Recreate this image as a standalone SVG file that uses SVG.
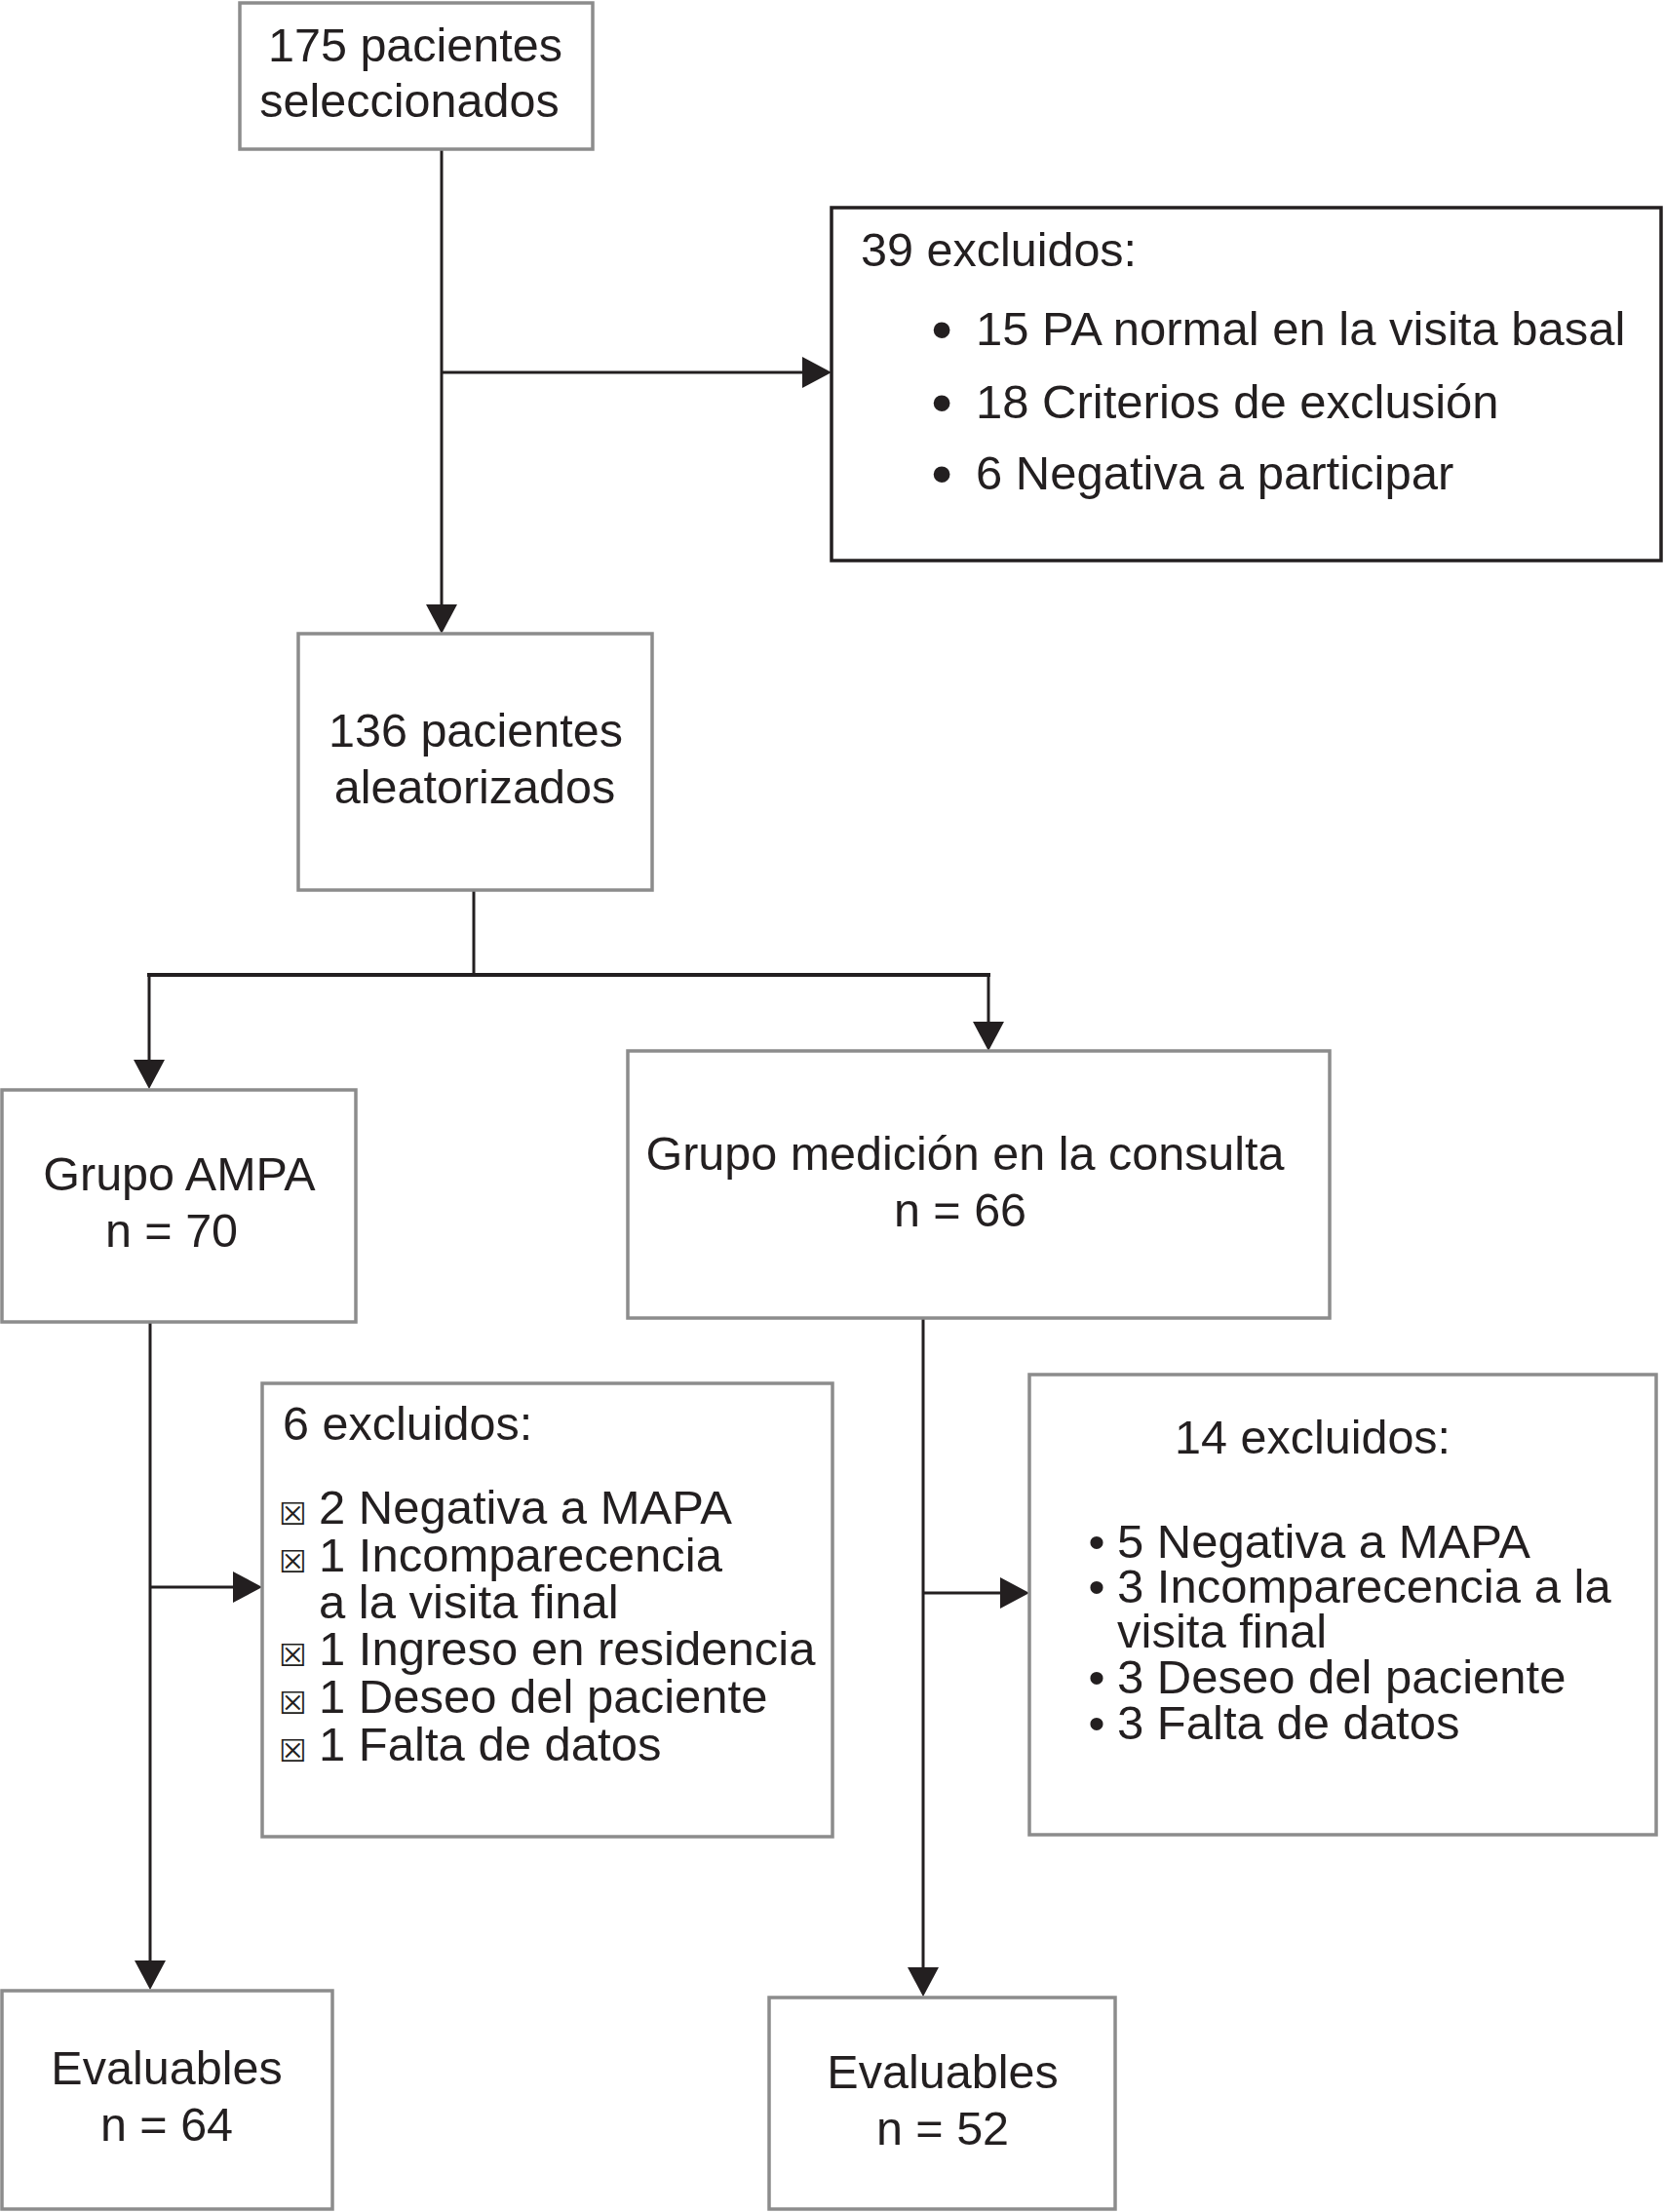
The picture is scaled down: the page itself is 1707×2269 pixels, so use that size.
<svg xmlns="http://www.w3.org/2000/svg" width="1707" height="2269" viewBox="0 0 1707 2269">
<style>
.box{fill:#fff;stroke:#8c8c8c;stroke-width:3.5}
.dark{fill:#fff;stroke:#231f20;stroke-width:3.5}
.t{font-family:"Liberation Sans",Arial,sans-serif;font-size:48.5px;fill:#231f20}
.m{text-anchor:middle}
.l{font-size:49px}
.b{font-size:62px}
.c{fill:none;stroke:#231f20;stroke-width:3}
.sq{font-family:"DejaVu Sans",sans-serif;font-size:32px;fill:#231f20}
</style>
<defs>
<marker id="ah" viewBox="0 0 30 32" refX="20" refY="16" markerWidth="30" markerHeight="32" markerUnits="userSpaceOnUse" orient="auto">
<path d="M0,0 L30,16 L0,32 z" fill="#231f20"/>
</marker>
</defs>
<rect width="1707" height="2269" fill="#fff"/>
<g id="connectors">
<path class="c" d="M453,152 V640" marker-end="url(#ah)"/>
<path class="c" d="M453,382 H843" marker-end="url(#ah)"/>
<path class="c" d="M486,913 V1000"/>
<path class="c" style="stroke-width:4" d="M151,1000 H1016"/>
<path class="c" d="M153,1000 V1107" marker-end="url(#ah)"/>
<path class="c" d="M1014,1000 V1068" marker-end="url(#ah)"/>
<path class="c" d="M154,1356 V2031" marker-end="url(#ah)"/>
<path class="c" d="M154,1628 H259" marker-end="url(#ah)"/>
<path class="c" d="M947,1352 V2038" marker-end="url(#ah)"/>
<path class="c" d="M947,1634 H1046" marker-end="url(#ah)"/>
</g>
<g id="n175">
<rect class="box" x="246" y="3" width="362" height="150"/>
<text class="t m" x="426" y="63">175 pacientes</text>
<text class="t m" x="420" y="120">seleccionados</text>
</g>
<g id="excl39">
<rect class="dark" x="853" y="213" width="851" height="362"/>
<text class="t" x="883" y="273">39 excluidos:</text>
<text class="t b m" x="966" y="359">•</text>
<text class="t l" x="1001" y="354">15 PA normal en la visita basal</text>
<text class="t b m" x="966" y="434">•</text>
<text class="t l" x="1001" y="429">18 Criterios de exclusión</text>
<text class="t b m" x="966" y="507">•</text>
<text class="t l" x="1001" y="502">6 Negativa a participar</text>
</g>
<g id="n136">
<rect class="box" x="306" y="650" width="363" height="263"/>
<text class="t m" x="488" y="766">136 pacientes</text>
<text class="t m" x="487" y="824">aleatorizados</text>
</g>
<g id="ampa">
<rect class="box" x="2" y="1118" width="363" height="238"/>
<text class="t m" x="184" y="1221">Grupo AMPA</text>
<text class="t m" x="176" y="1279">n = 70</text>
</g>
<g id="consulta">
<rect class="box" x="644" y="1078" width="720" height="274"/>
<text class="t m" x="990" y="1200">Grupo medición en la consulta</text>
<text class="t m" x="985" y="1258">n = 66</text>
</g>
<g id="excl6">
<rect class="box" x="269" y="1419" width="585" height="465"/>
<text class="t" x="290" y="1477">6 excluidos:</text>
<text class="sq" x="286" y="1564">☒</text>
<text class="t l" x="327" y="1563">2 Negativa a MAPA</text>
<text class="sq" x="286" y="1613">☒</text>
<text class="t l" x="327" y="1612">1 Incomparecencia</text>
<text class="t l" x="327" y="1660">a la visita final</text>
<text class="sq" x="286" y="1709">☒</text>
<text class="t l" x="327" y="1708">1 Ingreso en residencia</text>
<text class="sq" x="286" y="1758">☒</text>
<text class="t l" x="327" y="1757">1 Deseo del paciente</text>
<text class="sq" x="286" y="1807">☒</text>
<text class="t l" x="327" y="1806">1 Falta de datos</text>
</g>
<g id="excl14">
<rect class="box" x="1056" y="1410" width="643" height="472"/>
<text class="t" x="1205" y="1491">14 excluidos:</text>
<text class="t m" x="1125" y="1598">•</text>
<text class="t l" x="1146" y="1598">5 Negativa a MAPA</text>
<text class="t m" x="1125" y="1644">•</text>
<text class="t l" x="1146" y="1644">3 Incomparecencia a la</text>
<text class="t l" x="1146" y="1690">visita final</text>
<text class="t m" x="1125" y="1737">•</text>
<text class="t l" x="1146" y="1737">3 Deseo del paciente</text>
<text class="t m" x="1125" y="1784">•</text>
<text class="t l" x="1146" y="1784">3 Falta de datos</text>
</g>
<g id="eval64">
<rect class="box" x="2" y="2042" width="339" height="224"/>
<text class="t m" x="171" y="2138">Evaluables</text>
<text class="t m" x="171" y="2196">n = 64</text>
</g>
<g id="eval52">
<rect class="box" x="789" y="2049" width="355" height="217"/>
<text class="t m" x="967" y="2142">Evaluables</text>
<text class="t m" x="967" y="2200">n = 52</text>
</g>
</svg>
